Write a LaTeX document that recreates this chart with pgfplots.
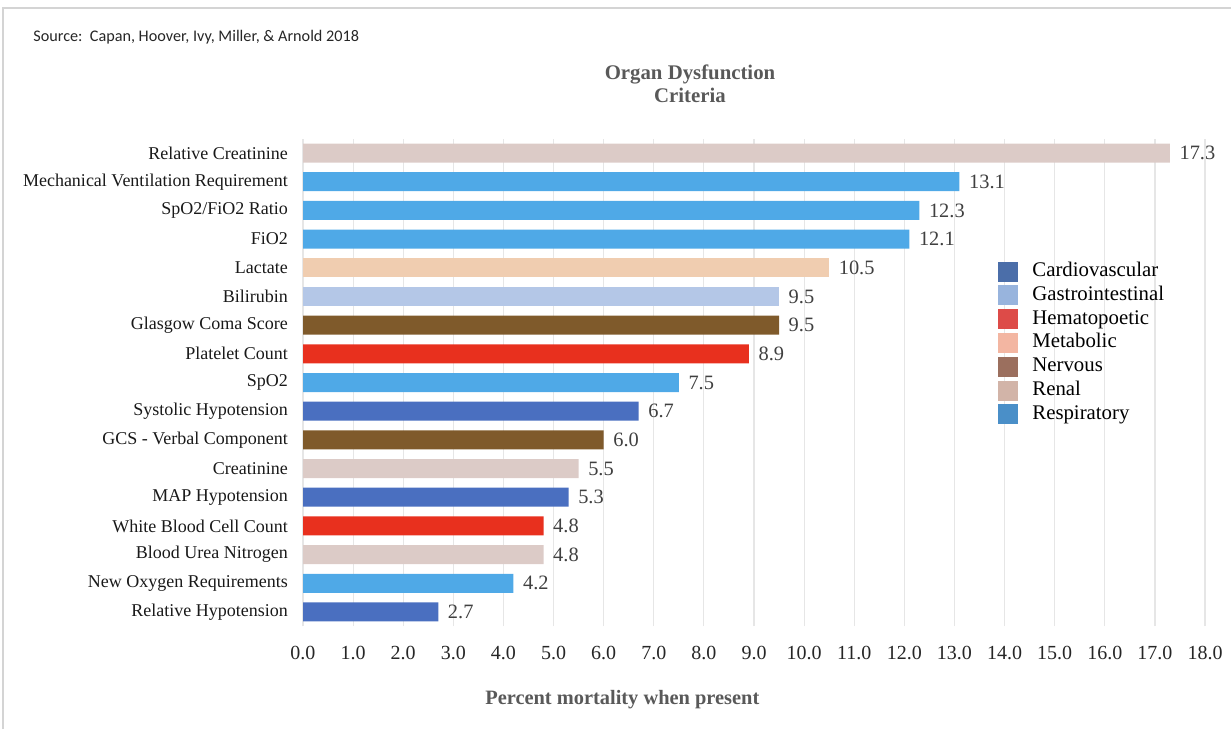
\documentclass[border=0pt]{standalone}
\usepackage{fontspec}
\setmainfont{Liberation Serif}
\newfontfamily\srcfont{Carlito}
\usepackage{pgfplots}
\pgfplotsset{compat=1.18}
\definecolor{barCardio}{HTML}{4A6FC0}
\definecolor{barGI}{HTML}{B4C7E7}
\definecolor{barHemato}{HTML}{E8301E}
\definecolor{barMeta}{HTML}{F0CDB0}
\definecolor{barNerv}{HTML}{7F5A2B}
\definecolor{barRenal}{HTML}{DCCBC7}
\definecolor{barResp}{HTML}{4FA9E7}
\definecolor{legCardio}{HTML}{4B6EA9}
\definecolor{legGI}{HTML}{98B4DD}
\definecolor{legHemato}{HTML}{DD4B48}
\definecolor{legMeta}{HTML}{F3B6A2}
\definecolor{legNerv}{HTML}{9B6F5E}
\definecolor{legRenal}{HTML}{D2B4A8}
\definecolor{legResp}{HTML}{4A8FC8}
\definecolor{titlegray}{HTML}{595959}
\definecolor{gridgray}{HTML}{E6E6E6}
\definecolor{framegray}{HTML}{D4D4D4}
\definecolor{valgray}{HTML}{404040}
\begin{document}
\begin{tikzpicture}
\useasboundingbox (0,0) rectangle (615.5pt,364.5pt);
\draw[framegray, line width=0.8pt] (1.5pt,0pt) -- (1.5pt,360.5pt) -- (615.5pt,360.5pt);
\node[anchor=west, inner sep=0pt, font=\srcfont\fontsize{8.1}{9.5}\selectfont, text=black!85] at (16.5pt,346pt) {Source:\ \ Capan, Hoover, Ivy, Miller, \& Arnold 2018};
\node[align=center, inner sep=0pt, font=\bfseries\fontsize{10.4}{11.5}\selectfont, text=titlegray] at (345pt,322.75pt) {Organ Dysfunction\\Criteria};
\begin{axis}[
  at={(151.5pt,51.35pt)}, anchor=south west,
  scale only axis, width=451pt, height=243.8pt,
  xmin=0, xmax=18, ymin=-0.5, ymax=16.5,
  xbar, bar width=9.5pt, bar shift=0pt,
  xtick={0,1,...,18},
  ytick={0,1,...,16},
  yticklabels={Relative Hypotension, New Oxygen Requirements, Blood Urea Nitrogen, White Blood Cell Count, MAP Hypotension, Creatinine, GCS - Verbal Component, Systolic Hypotension, SpO2, Platelet Count, Glasgow Coma Score, Bilirubin, Lactate, FiO2, SpO2/FiO2 Ratio, Mechanical Ventilation Requirement, Relative Creatinine},
  axis lines*=left,
  axis line style={-},
  x axis line style={draw=none},
  y axis line style={draw=gridgray, line width=0.8pt},
  major tick length=0pt,
  xmajorgrids, grid style={gridgray, line width=0.6pt},
  /pgf/number format/assume math mode=true,
  xticklabel style={font=\fontsize{10}{12}\selectfont, text=black!85, yshift=-6.5pt, /pgf/number format/.cd, fixed, fixed zerofill, precision=1},
  yticklabel style={font=\fontsize{9}{11}\selectfont, text=black!90, xshift=-4pt},
  xlabel={Percent mortality when present},
  xlabel style={at={(axis description cs:0.354,-0.1511)}, anchor=center, font=\bfseries\fontsize{10.2}{12}\selectfont, text=titlegray},
  point meta=x,
  nodes near coords={\pgfmathprintnumber[fixed,fixed zerofill,precision=1]{\pgfplotspointmeta}},
  nodes near coords style={anchor=west, xshift=1.3pt, font=\fontsize{10.2}{12}\selectfont, text=valgray, /pgf/number format/assume math mode=true},
  legend image code/.code={\fill (0pt,-5pt) rectangle (10pt,5pt);},
  legend style={at={(0.7705,0.751)}, anchor=north west, draw=none, fill=none, inner sep=0pt,
    font=\fontsize{10.4}{12}\selectfont, row sep=0.9pt, column sep=6pt,
    nodes={inner sep=1pt, text height=7pt, text depth=2pt}},
  legend cell align=left,
]
\addplot[fill=barCardio, draw=none, forget plot] coordinates {(2.7,0) (5.3,4) (6.7,7)};
\addplot[fill=barResp, draw=none, forget plot] coordinates {(4.2,1) (7.5,8) (12.1,13) (12.3,14) (13.1,15)};
\addplot[fill=barRenal, draw=none, forget plot] coordinates {(4.8,2) (5.5,5) (17.3,16)};
\addplot[fill=barHemato, draw=none, forget plot] coordinates {(4.8,3) (8.9,9)};
\addplot[fill=barNerv, draw=none, forget plot] coordinates {(6.0,6) (9.5,10)};
\addplot[fill=barGI, draw=none, forget plot] coordinates {(9.5,11)};
\addplot[fill=barMeta, draw=none, forget plot] coordinates {(10.5,12)};
\addlegendimage{fill=legCardio, draw=none}\addlegendentry{Cardiovascular}
\addlegendimage{fill=legGI, draw=none}\addlegendentry{Gastrointestinal}
\addlegendimage{fill=legHemato, draw=none}\addlegendentry{Hematopoetic}
\addlegendimage{fill=legMeta, draw=none}\addlegendentry{Metabolic}
\addlegendimage{fill=legNerv, draw=none}\addlegendentry{Nervous}
\addlegendimage{fill=legRenal, draw=none}\addlegendentry{Renal}
\addlegendimage{fill=legResp, draw=none}\addlegendentry{Respiratory}
\end{axis}
\end{tikzpicture}
\end{document}
